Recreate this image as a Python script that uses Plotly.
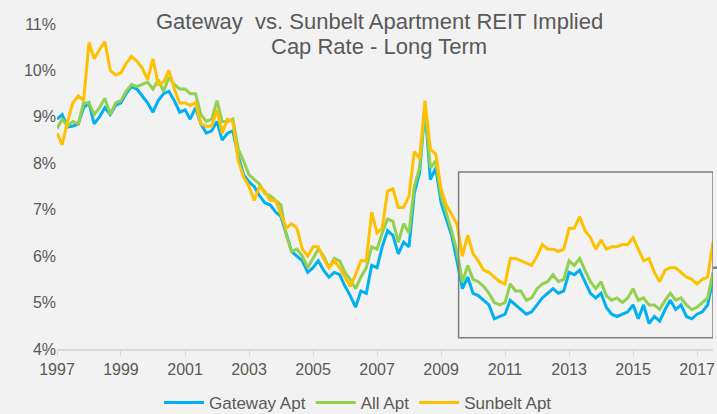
import plotly.graph_objects as go
import pandas as pd

# bi-monthly dates, Jan 1997 .. Jul 2017
dates = pd.date_range("1997-01-01", "2017-07-01", freq="2MS")

sunbelt = [
    8.65, 8.4, 8.9, 9.3, 9.45, 9.35, 10.6, 10.25, 10.45, 10.62, 10.0, 9.9,
    9.95, 10.15, 10.3, 10.2, 10.05, 9.8, 10.25, 9.7, 9.75, 10.0, 9.6, 9.3,
    9.3, 9.25, 9.3, 8.85, 8.8, 8.8, 9.15, 8.65, 8.95, 8.9, 8.05, 7.7,
    7.5, 7.2, 7.5, 7.4, 7.2, 7.2, 6.9, 6.6, 6.7, 6.6, 6.15, 6.0,
    6.2, 6.2, 5.95, 5.75, 5.9, 5.75, 5.55, 5.35, 5.6, 5.9, 5.9, 6.95,
    6.5, 6.6, 7.4, 7.45, 7.05, 7.05, 7.3, 8.25, 8.1, 9.35, 8.3, 8.2,
    7.45, 7.1, 6.9, 6.7, 6.0, 6.45, 6.05, 5.9, 5.7, 5.65, 5.55, 5.45,
    5.4, 5.95, 5.95, 5.9, 5.85, 5.8, 6.0, 6.25, 6.15, 6.15, 6.1, 6.15,
    6.6, 6.6, 6.85, 6.55, 6.4, 6.15, 6.35, 6.15, 6.2, 6.2, 6.25, 6.25,
    6.4, 6.15, 5.9, 5.95, 5.65, 5.45, 5.7, 5.75, 5.75, 5.65, 5.55, 5.5,
    5.4, 5.5, 5.55, 6.3,
]

all_apt = [
    8.75, 8.95, 8.8, 8.9, 8.85, 9.3, 9.3, 9.05, 9.2, 9.4, 9.05, 9.3,
    9.35, 9.55, 9.7, 9.65, 9.7, 9.75, 9.6, 9.8, 9.55, 9.85, 9.7, 9.6,
    9.6, 9.5, 9.5, 9.05, 8.9, 8.95, 9.35, 8.9, 8.9, 8.95, 8.3, 8.05,
    7.75, 7.65, 7.55, 7.35, 7.3, 7.2, 7.1, 6.45, 6.1, 6.15, 6.0, 5.75,
    5.95, 6.15, 6.0, 5.75, 5.95, 5.9, 5.65, 5.5, 5.3, 5.55, 5.75, 6.2,
    6.15, 6.5, 6.8, 6.75, 6.3, 6.7, 6.5, 7.5, 7.9, 9.2, 7.9, 8.05,
    7.3, 6.95, 6.55, 6.1, 5.45, 5.8, 5.5, 5.45, 5.35, 5.2, 5.0, 4.95,
    5.0, 5.4, 5.25, 5.25, 5.05, 5.1, 5.3, 5.4, 5.45, 5.6, 5.45, 5.5,
    5.9, 5.8, 5.95, 5.7, 5.45, 5.3, 5.45, 5.15, 5.05, 5.1, 5.0, 5.1,
    5.3, 5.05, 5.1, 4.95, 4.95, 4.85, 5.05, 5.2, 5.05, 5.1, 4.95, 4.85,
    4.9, 5.0, 5.1, 5.65,
]

gateway = [
    8.95, 9.05, 8.78, 8.8, 8.85, 9.2, 9.3, 8.85, 9.0, 9.2, 9.05, 9.25,
    9.3, 9.5, 9.65, 9.6, 9.45, 9.3, 9.1, 9.35, 9.5, 9.55, 9.35, 9.1,
    9.15, 8.95, 9.2, 8.85, 8.65, 8.7, 8.9, 8.5, 8.65, 8.7, 8.15, 7.75,
    7.6, 7.5, 7.3, 7.15, 7.1, 6.95, 6.85, 6.45, 6.1, 6.0, 5.9, 5.65,
    5.75, 5.9, 5.7, 5.55, 5.65, 5.6, 5.35, 5.15, 4.9, 5.25, 5.2, 5.8,
    5.75, 6.2, 6.55, 6.45, 6.05, 6.3, 6.2, 7.35, 7.8, 9.2, 7.65, 7.9,
    7.15, 6.8, 6.45, 5.9, 5.3, 5.55, 5.2, 5.15, 5.05, 4.95, 4.65, 4.7,
    4.75, 5.05, 4.95, 4.85, 4.75, 4.8, 4.95, 5.1, 5.2, 5.3, 5.2, 5.25,
    5.65, 5.6, 5.7, 5.45, 5.2, 5.1, 5.2, 4.9, 4.75, 4.7, 4.75, 4.8,
    4.95, 4.65, 4.95, 4.55, 4.7, 4.6, 4.85, 5.05, 4.85, 4.95, 4.7, 4.65,
    4.75, 4.8, 4.95, 5.5,
]

series_names = ["Gateway Apt", "All Apt", "Sunbelt Apt"]
series_colors = ["#00B0F0", "#92D050", "#FFC000"]
tick_years = list(range(1997, 2018, 2))
title_lines = ["Gateway  vs. Sunbelt Apartment REIT Implied", "Cap Rate - Long Term"]

# highlight box (recent period) in data units
box_x = ["2009-07-20", "2017-07-01"]
box_y = [4.24, 7.81]
marker_y = 5.75

bg = "#F1F2F1"
txt = "#595959"
W, H = 717, 414
ML, MR, MT, MB = 57, 4, 24, 65
PW, PH = W - ML - MR, H - MT - MB

fig = go.Figure()
for name, vals, col in zip(series_names, [gateway, all_apt, sunbelt], series_colors):
    fig.add_trace(go.Scatter(
        x=dates, y=vals, mode="lines", name=name,
        line=dict(color=col, width=3),
    ))

fig.add_shape(type="rect", xref="x", yref="y",
              x0=box_x[0], x1=box_x[1], y0=box_y[0], y1=box_y[1],
              line=dict(color="#7F7F7F", width=1.5), fillcolor="rgba(0,0,0,0)")
fig.add_shape(type="line", xref="paper", yref="y",
              x0=1.0, x1=1.007, y0=marker_y, y1=marker_y,
              line=dict(color="#7F7F7F", width=2.5))

# title as two centred lines
for line_txt, cy in zip(title_lines, [22, 46]):
    fig.add_annotation(
        text=line_txt, showarrow=False,
        xref="paper", yref="paper",
        x=(379 - ML) / PW, y=1 + (MT - cy) / PH,
        xanchor="center", yanchor="middle",
        font=dict(size=22, color=txt, family="Liberation Sans, Arial, sans-serif"),
    )

fig.update_layout(
    width=W, height=H,
    paper_bgcolor=bg, plot_bgcolor=bg,
    margin=dict(l=ML, r=MR, t=MT, b=MB, autoexpand=False),
    font=dict(family="Liberation Sans, Arial, sans-serif", color=txt, size=16),
    showlegend=True,
    legend=dict(orientation="h", x=(358 - ML) / PW, xanchor="center",
                y=-(403 - (MT + PH)) / PH, yanchor="middle",
                font=dict(size=17, color=txt), bgcolor="rgba(0,0,0,0)",
                itemwidth=40, tracegroupgap=0),
    xaxis=dict(
        type="date", range=["1997-01-01", "2017-07-01"],
        tickvals=[f"{y}-01-01" for y in tick_years],
        ticktext=[str(y) for y in tick_years],
        showgrid=False, showline=True, linecolor="#D9D9D9", linewidth=1.5,
        ticks="outside", ticklen=5, tickcolor="#D9D9D9",
        tickfont=dict(size=16, color=txt), zeroline=False, automargin=False,
    ),
    yaxis=dict(
        range=[4, 11], dtick=1, ticksuffix="%",
        showgrid=False, showline=False, zeroline=False,
        tickfont=dict(size=16, color=txt), ticks="", automargin=False,
    ),
)

fig.write_html(
    "out.html",
    config={"displayModeBar": False},
    post_script="document.body.style.margin='0';document.body.style.overflow='hidden';",
)
